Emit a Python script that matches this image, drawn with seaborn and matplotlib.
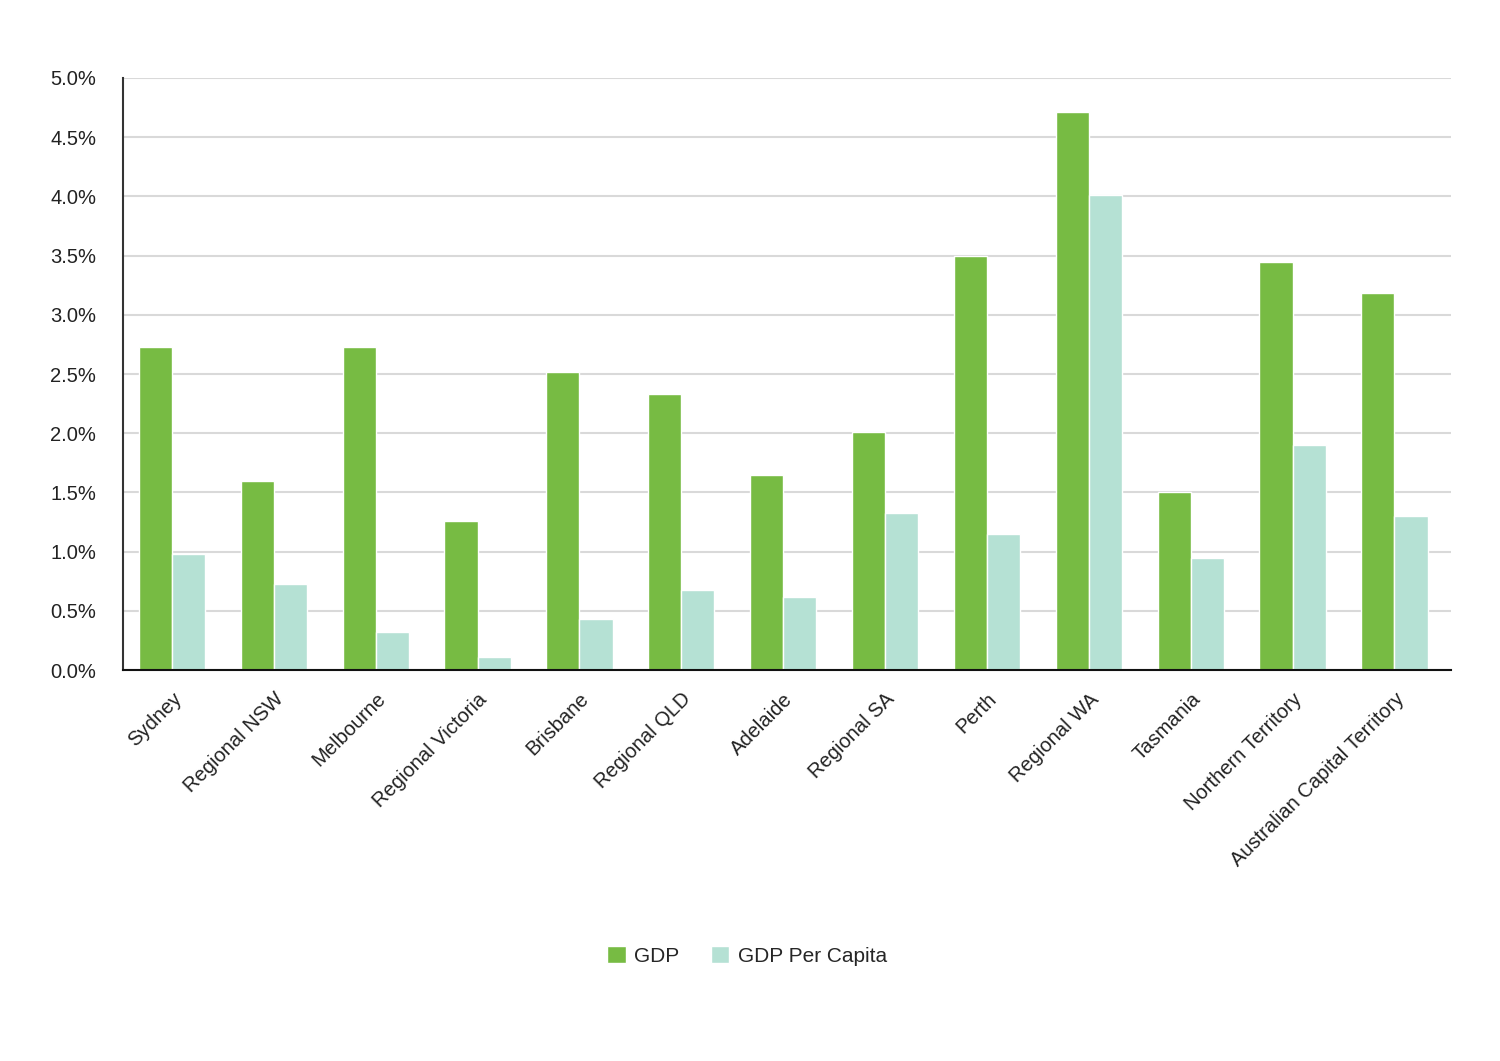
import matplotlib
matplotlib.use("Agg")
import matplotlib.pyplot as plt
import seaborn as sns
import pandas as pd
from matplotlib.ticker import FuncFormatter, MultipleLocator

regions = ["Sydney", "Regional NSW", "Melbourne", "Regional Victoria", "Brisbane",
           "Regional QLD", "Adelaide", "Regional SA", "Perth", "Regional WA",
           "Tasmania", "Northern Territory", "Australian Capital Territory"]
gdp = [2.73, 1.60, 2.73, 1.26, 2.52, 2.33, 1.65, 2.01, 3.50, 4.71, 1.50, 3.45, 3.18]
gdp_per_capita = [0.98, 0.73, 0.32, 0.11, 0.43, 0.68, 0.62, 1.33, 1.15, 4.01, 0.95, 1.90, 1.30]
series_names = ["GDP", "GDP Per Capita"]

df = pd.DataFrame({
    "Region": regions * 2,
    "Series": [series_names[0]] * len(regions) + [series_names[1]] * len(regions),
    "Value": gdp + gdp_per_capita,
})

sns.set_theme(style="white")
plt.rcParams["font.family"] = ["Liberation Sans", "DejaVu Sans"]

fig = plt.figure(figsize=(15, 10.61), dpi=100)
ax = fig.add_axes([0.082, 0.3685, 0.885, 0.558])

palette = {"GDP": "#77BB43", "GDP Per Capita": "#B5E1D4"}
sns.barplot(data=df, x="Region", y="Value", hue="Series", palette=palette,
            width=0.65, saturation=1, ax=ax, legend=True)

ax.set_ylim(0, 5.0)
ax.set_xlim(-0.48, 12.55)
ax.yaxis.set_major_locator(MultipleLocator(0.5))
ax.yaxis.set_major_formatter(FuncFormatter(lambda v, p: f"{v:.1f}%"))
ax.grid(axis="y", color="#d9d9d9", linewidth=1.5)
ax.set_axisbelow(True)
for s in ["top", "right"]:
    ax.spines[s].set_visible(False)
ax.spines["left"].set_color("#333333")
ax.spines["left"].set_linewidth(1.5)
ax.spines["bottom"].set_color("#111111")
ax.spines["bottom"].set_linewidth(1.5)
ax.tick_params(axis="y", which="major", length=9.4, color="#d9d9d9", width=1.5,
               labelsize=14.5, labelcolor="#222222", pad=10)
ax.tick_params(axis="x", length=0, labelsize=14.5, labelcolor="#222222", pad=14)
ax.set_xlabel("")
ax.set_ylabel("")
plt.setp(ax.get_xticklabels(), rotation=45, ha="right", rotation_mode="anchor")

handles, labels = ax.get_legend_handles_labels()
ax.legend(handles, labels, loc="upper center", bbox_to_anchor=(0.498, 0.126),
          bbox_transform=fig.transFigure, ncol=2, frameon=False, fontsize=15,
          handlelength=0.9, handleheight=0.9, handletextpad=0.4, columnspacing=1.5)

fig.savefig("out.png", dpi=100, facecolor="white")
